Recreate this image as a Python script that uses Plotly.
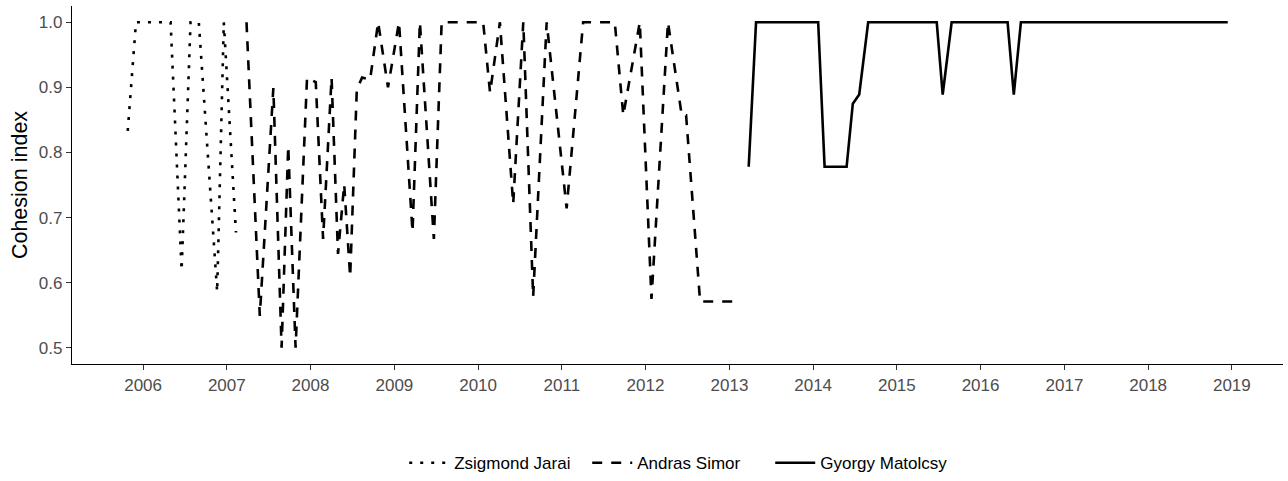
import plotly.graph_objects as go

# ---- data ----
jarai_dates = ["2005-10-26", "2005-12-01", "2006-05-01", "2006-06-18", "2006-07-27",
               "2006-09-01", "2006-11-20", "2006-12-19", "2007-02-10"]
jarai_vals = [0.833, 1.0, 1.0, 0.619, 1.0, 1.0, 0.586, 1.0, 0.677]

simor_dates = ["2007-03-28", "2007-05-25", "2007-07-23", "2007-08-28", "2007-09-26",
               "2007-10-28", "2007-12-17", "2008-01-24", "2008-02-25", "2008-04-02",
               "2008-04-30", "2008-05-27", "2008-06-22", "2008-07-21", "2008-08-13",
               "2008-09-17", "2008-10-22", "2008-12-04", "2009-01-21", "2009-03-21",
               "2009-04-22", "2009-06-22", "2009-07-26", "2010-01-23", "2010-02-22",
               "2010-04-06", "2010-06-03", "2010-07-17", "2010-08-29", "2010-10-27",
               "2011-01-22", "2011-04-04", "2011-08-20", "2011-09-26", "2011-12-07",
               "2012-01-27", "2012-04-08", "2012-06-07", "2012-06-26", "2012-08-26",
               "2013-01-18"]
simor_vals = [1.0, 0.549, 0.899, 0.5, 0.810,
              0.5, 0.915, 0.908, 0.667, 0.915,
              0.644, 0.751, 0.609, 0.897, 0.915,
              0.912, 1.0, 0.9, 1.0, 0.678,
              1.0, 0.667, 1.0, 1.0, 0.892,
              1.0, 0.721, 1.0, 0.578, 1.0,
              0.714, 1.0, 1.0, 0.857, 1.0,
              0.575, 1.0, 0.857, 0.857, 0.571,
              0.571]

matolcsy_dates = ["2013-03-26", "2013-04-27", "2014-01-23", "2014-02-20", "2014-05-27",
                  "2014-06-23", "2014-07-21", "2014-08-29", "2015-06-24", "2015-07-20",
                  "2015-08-28", "2016-04-28", "2016-05-25", "2016-06-25", "2018-12-14"]
matolcsy_vals = [0.778, 1.0, 1.0, 0.778, 0.778,
                 0.875, 0.889, 1.0, 1.0, 0.889,
                 1.0, 1.0, 0.889, 1.0, 1.0]

year_labels = [str(y) for y in range(2006, 2020)]
year_ticks = [f"{y}-01-01" for y in range(2006, 2020)]
y_ticks = [0.5, 0.6, 0.7, 0.8, 0.9, 1.0]
y_labels = ["0.5", "0.6", "0.7", "0.8", "0.9", "1.0"]

FONT = "Liberation Sans, Arial, sans-serif"

fig = go.Figure()
fig.add_trace(go.Scatter(x=jarai_dates, y=jarai_vals, mode="lines", name="Zsigmond Jarai",
                         line=dict(color="black", width=2.6, dash="3px,8px")))
fig.add_trace(go.Scatter(x=simor_dates, y=simor_vals, mode="lines", name="Andras Simor",
                         line=dict(color="black", width=2.6, dash="10px,9px")))
fig.add_trace(go.Scatter(x=matolcsy_dates, y=matolcsy_vals, mode="lines", name="Gyorgy Matolcsy",
                         line=dict(color="black", width=2.6)))

fig.update_layout(
    width=1288, height=481,
    margin=dict(l=72, r=5, t=6, b=117, autoexpand=False),
    paper_bgcolor="white", plot_bgcolor="white",
    font=dict(family=FONT, size=17, color="#4D4D4D"),
    showlegend=True,
    legend=dict(orientation="h", x=0.501, xanchor="center", y=-0.277, yanchor="middle",
                font=dict(size=17, color="black"), itemwidth=40, entrywidth=128,
                bgcolor="rgba(0,0,0,0)"),
    xaxis=dict(type="date", range=["2005-02-25", "2019-08-12"],
               tickmode="array", tickvals=year_ticks, ticktext=year_labels,
               showgrid=False, zeroline=False, showline=True, linecolor="black", linewidth=1.3,
               ticks="outside", ticklen=5, tickwidth=1.2, tickcolor="#333333",
               tickfont=dict(size=17, color="#4D4D4D")),
    yaxis=dict(range=[0.475, 1.025], tickmode="array", tickvals=y_ticks, ticktext=y_labels,
               showgrid=False, zeroline=False, showline=True, linecolor="black", linewidth=1.3,
               ticks="outside", ticklen=5, tickwidth=1.2, tickcolor="#333333",
               tickfont=dict(size=17, color="#4D4D4D"),
               title=dict(text="Cohesion index", font=dict(size=21.5, color="black"), standoff=5)),
)

fig.write_html("out.html")
